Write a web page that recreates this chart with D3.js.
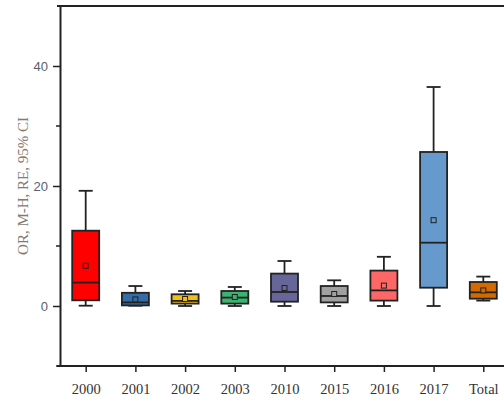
<!DOCTYPE html>
<html>
<head>
<meta charset="utf-8">
<script src="https://cdn.jsdelivr.net/npm/d3@7"></script>
<style>
  html, body { margin: 0; padding: 0; background: #fff; }
  svg { display: block; }
</style>
</head>
<body>
<svg id="chart" width="504" height="402"></svg>
<script>
// Groups along the x axis
const categories = ["2000", "2001", "2002", "2003", "2010", "2015", "2016", "2017", "Total"];
// Five-number summaries plus mean per group
const whiskerLow = [0.05, 0.05, 0.0, 0.0, 0.0, 0.0, 0.0, 0.0, 0.9];
const q1         = [0.95, 0.1, 0.4, 0.4, 0.72, 0.6, 0.9, 3.05, 1.22];
const median     = [3.9, 0.6, 0.85, 1.4, 2.33, 1.67, 2.6, 10.55, 2.28];
const q3         = [12.55, 2.2, 1.95, 2.5, 5.4, 3.33, 5.9, 25.67, 4.0];
const whiskerHigh= [19.2, 3.33, 2.5, 3.17, 7.5, 4.28, 8.2, 36.5, 4.9];
const means      = [6.7, 1.1, 1.17, 1.5, 3.0, 2.0, 3.4, 14.3, 2.6];
const fills      = ["#ff0000", "#336ca6", "#f4bf14", "#3cb371", "#666699", "#a0a0a0", "#ff6666", "#6699cc", "#d26a00"];
const majorTicks = [0, 20, 40];
const minorTicks = [-10, 10, 30];

const rows = categories.map((c, i) => ({
  cat: c, lo: whiskerLow[i], q1: q1[i], med: median[i], q3: q3[i],
  hi: whiskerHigh[i], mean: means[i], fill: fills[i]
}));

const svg = d3.select("#chart");
const plotLeft = 60, plotTop = 6, plotBottom = 366, plotRight = 504;

const x = d3.scalePoint().domain(categories).range([85.7, 483.3]).padding(0);
const y = d3.scaleLinear().domain([-10, 50]).range([plotBottom, plotTop]);

const boxW = 27, capW = 14;
const ink = "#222";

// Boxes
const g = svg.append("g");
const item = g.selectAll("g.box").data(rows).join("g").attr("class", "box");

item.append("line")
  .attr("x1", d => x(d.cat)).attr("x2", d => x(d.cat))
  .attr("y1", d => y(d.hi)).attr("y2", d => y(d.q3))
  .attr("stroke", ink).attr("stroke-width", 1.8);
item.append("line")
  .attr("x1", d => x(d.cat)).attr("x2", d => x(d.cat))
  .attr("y1", d => y(d.q1)).attr("y2", d => y(d.lo))
  .attr("stroke", ink).attr("stroke-width", 1.8);
item.append("line")
  .attr("x1", d => x(d.cat) - capW / 2).attr("x2", d => x(d.cat) + capW / 2)
  .attr("y1", d => y(d.hi)).attr("y2", d => y(d.hi))
  .attr("stroke", ink).attr("stroke-width", 1.8);
item.append("line")
  .attr("x1", d => x(d.cat) - capW / 2).attr("x2", d => x(d.cat) + capW / 2)
  .attr("y1", d => y(d.lo)).attr("y2", d => y(d.lo))
  .attr("stroke", ink).attr("stroke-width", 1.8);
item.append("rect")
  .attr("x", d => x(d.cat) - boxW / 2).attr("width", boxW)
  .attr("y", d => y(d.q3)).attr("height", d => y(d.q1) - y(d.q3))
  .attr("fill", d => d.fill).attr("stroke", ink).attr("stroke-width", 1.8);
item.append("line")
  .attr("x1", d => x(d.cat) - boxW / 2).attr("x2", d => x(d.cat) + boxW / 2)
  .attr("y1", d => y(d.med)).attr("y2", d => y(d.med))
  .attr("stroke", ink).attr("stroke-width", 1.8);
item.append("rect")
  .attr("x", d => x(d.cat) - 2.5).attr("y", d => y(d.mean) - 2.5)
  .attr("width", 5).attr("height", 5)
  .attr("fill", d => d.fill).attr("stroke", ink).attr("stroke-width", 1);

// Frame line along the top
svg.append("line").attr("x1", plotLeft - 3).attr("x2", plotRight).attr("y1", plotTop).attr("y2", plotTop)
  .attr("stroke", ink).attr("stroke-width", 2);

// Y axis
const yAxis = svg.append("g").attr("transform", `translate(${plotLeft},0)`)
  .call(d3.axisLeft(y).tickValues(majorTicks).tickSize(7).tickSizeOuter(0).tickPadding(5));
yAxis.select(".domain").attr("stroke", ink).attr("stroke-width", 2);
yAxis.selectAll(".tick line").attr("stroke", ink).attr("stroke-width", 1.5);
yAxis.selectAll(".tick text")
  .attr("font-family", "'Liberation Sans', Arial, sans-serif")
  .attr("font-size", 13).attr("fill", "#58606c");
yAxis.selectAll("line.minor").data(minorTicks).join("line").attr("class", "minor")
  .attr("x1", -4).attr("x2", 0).attr("y1", d => y(d)).attr("y2", d => y(d))
  .attr("stroke", ink).attr("stroke-width", 1.5);

// X axis
const xAxis = svg.append("g").attr("transform", `translate(0,${plotBottom})`)
  .call(d3.axisBottom(x).tickSize(6).tickSizeOuter(0).tickPadding(12));
xAxis.select(".domain").attr("d", `M${plotLeft - 3},0H${plotRight}`).attr("stroke", ink).attr("stroke-width", 2);
xAxis.selectAll(".tick line").attr("stroke", ink).attr("stroke-width", 1.5);
xAxis.selectAll(".tick text")
  .attr("font-family", "'Liberation Serif', 'DejaVu Serif', serif")
  .attr("font-size", 14.5).attr("fill", "#333");

// Y axis title
svg.append("text")
  .attr("transform", `translate(28,${y(20)}) rotate(-90)`)
  .attr("text-anchor", "middle")
  .attr("font-family", "'Liberation Serif', serif")
  .attr("font-size", 15).attr("fill", "#857a6e")
  .text("OR, M-H, RE, 95% CI");
</script>
</body>
</html>
